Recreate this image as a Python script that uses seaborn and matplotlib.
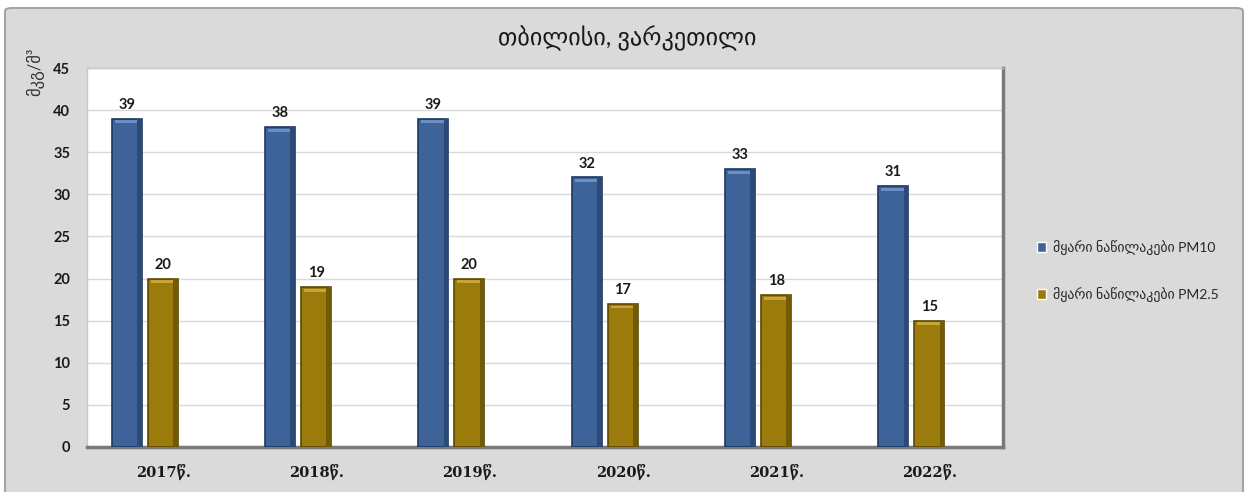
import numpy as np
import pandas as pd
import matplotlib
matplotlib.use("Agg")
import matplotlib.pyplot as plt
from matplotlib.patches import FancyBboxPatch, Rectangle
import seaborn as sns

# Data: annual mean concentrations, Tbilisi (Varketili)
years = ["2017წ.", "2018წ.", "2019წ.", "2020წ.", "2021წ.", "2022წ."]
pm10 = [39, 38, 39, 32, 33, 31]
pm25 = [20, 19, 20, 17, 18, 15]
series_names = ["მყარი ნაწილაკები PM10", "მყარი ნაწილაკები PM2.5"]
title = "თბილისი, ვარკეთილი"
ylabel = "მკგ/მ³"

df = pd.DataFrame({
    "year": years * 2,
    "value": pm10 + pm25,
    "series": [series_names[0]] * len(years) + [series_names[1]] * len(years),
})

sns.set_theme(style="white")
plt.rcParams["font.family"] = ["Lato", "DejaVu Sans"]

W, H = 1249, 492
fig = plt.figure(figsize=(W / 100, H / 100), dpi=100)
fig.patch.set_facecolor("white")

# grey chart area with a thin rounded frame, kept behind the axes
frame = FancyBboxPatch((5 / W, -0.02), 1238 / W, (H - 8) / H + 0.02,
                       boxstyle="round,pad=0,rounding_size=0.006",
                       transform=fig.transFigure, facecolor="#dadada",
                       edgecolor="#a6a6a6", linewidth=1.5, zorder=-10)
fig.patches.append(frame)

ax = fig.add_axes([87 / W, 1 - 447 / H, (1003 - 87) / W, (447 - 68) / H])
ax.set_zorder(1)
ax.set_facecolor("white")

blue, gold = "#3d6399", "#9a7b0b"
sns.barplot(data=df, x="year", y="value", hue="series", order=years,
            hue_order=series_names, palette=[blue, gold], width=0.47,
            gap=0.165, saturation=1, ax=ax, zorder=3)

edge = {0: "#1d3760", 1: "#5a4704"}
shade = {0: "#2b4a75", 1: "#735b06"}
light = {0: "#6a8fc4", 1: "#c9a43a"}
for i, cont in enumerate(ax.containers):
    for bar in cont:
        bar.set_edgecolor(edge[i])
        bar.set_linewidth(1.2)
        # bevel: darker right side and a lighter cap on top of each bar
        x0, w, h = bar.get_x(), bar.get_width(), bar.get_height()
        ax.add_patch(Rectangle((x0 + w * 0.84, 0), w * 0.16, h,
                               facecolor=shade[i], edgecolor="none",
                               zorder=3.5))
        ax.add_patch(Rectangle((x0 + w * 0.1, h - 0.55), w * 0.74, 0.35,
                               facecolor=light[i], edgecolor="none",
                               zorder=3.6))
    ax.bar_label(cont, padding=5, fontsize=10.5, fontweight="bold",
                 color="#1a1a1a")

ax.set_ylim(0, 45)
ax.set_yticks(np.arange(0, 46, 5))
ax.set_xlim(-0.377, 5.598)
ax.set_xticks(np.arange(len(years)) + 0.119)
ax.set_xticklabels(years, family=["DejaVu Serif", "DejaVu Sans"],
                   fontweight="bold", fontsize=10.5, color="#1a1a1a")
for lab in ax.get_yticklabels():
    lab.set_fontweight("bold")
    lab.set_fontsize(10.5)
    lab.set_color("#1a1a1a")
ax.tick_params(axis="y", length=0, pad=12)
ax.tick_params(axis="x", length=0, pad=12)
ax.grid(axis="y", color="#d9d9d9", linewidth=1, zorder=0)
ax.set_axisbelow(True)
ax.set_xlabel("")
ax.set_ylabel("")

for side in ("left", "top"):
    ax.spines[side].set_color("#c8c8c8")
    ax.spines[side].set_linewidth(1)
for side in ("right", "bottom"):
    ax.spines[side].set_color("#7a7a7a")
    ax.spines[side].set_linewidth(2.5)

handles, labels = ax.get_legend_handles_labels()
ax.legend(handles, labels, loc="center left",
          bbox_to_anchor=(1024 / W, 1 - 271 / H),
          bbox_transform=fig.transFigure, frameon=False, fontsize=10,
          handlelength=0.7, handleheight=0.7, handletextpad=0.5,
          labelspacing=2.3)

fig.text(627 / W, 1 - 38 / H, title, ha="center", va="center",
         fontsize=17.5, color="#1a1a1a")
fig.text(35 / W, 1 - 72 / H, ylabel, ha="center", va="center",
         rotation=90, fontsize=12, color="#333333")

fig.savefig("out.png", dpi=100)
